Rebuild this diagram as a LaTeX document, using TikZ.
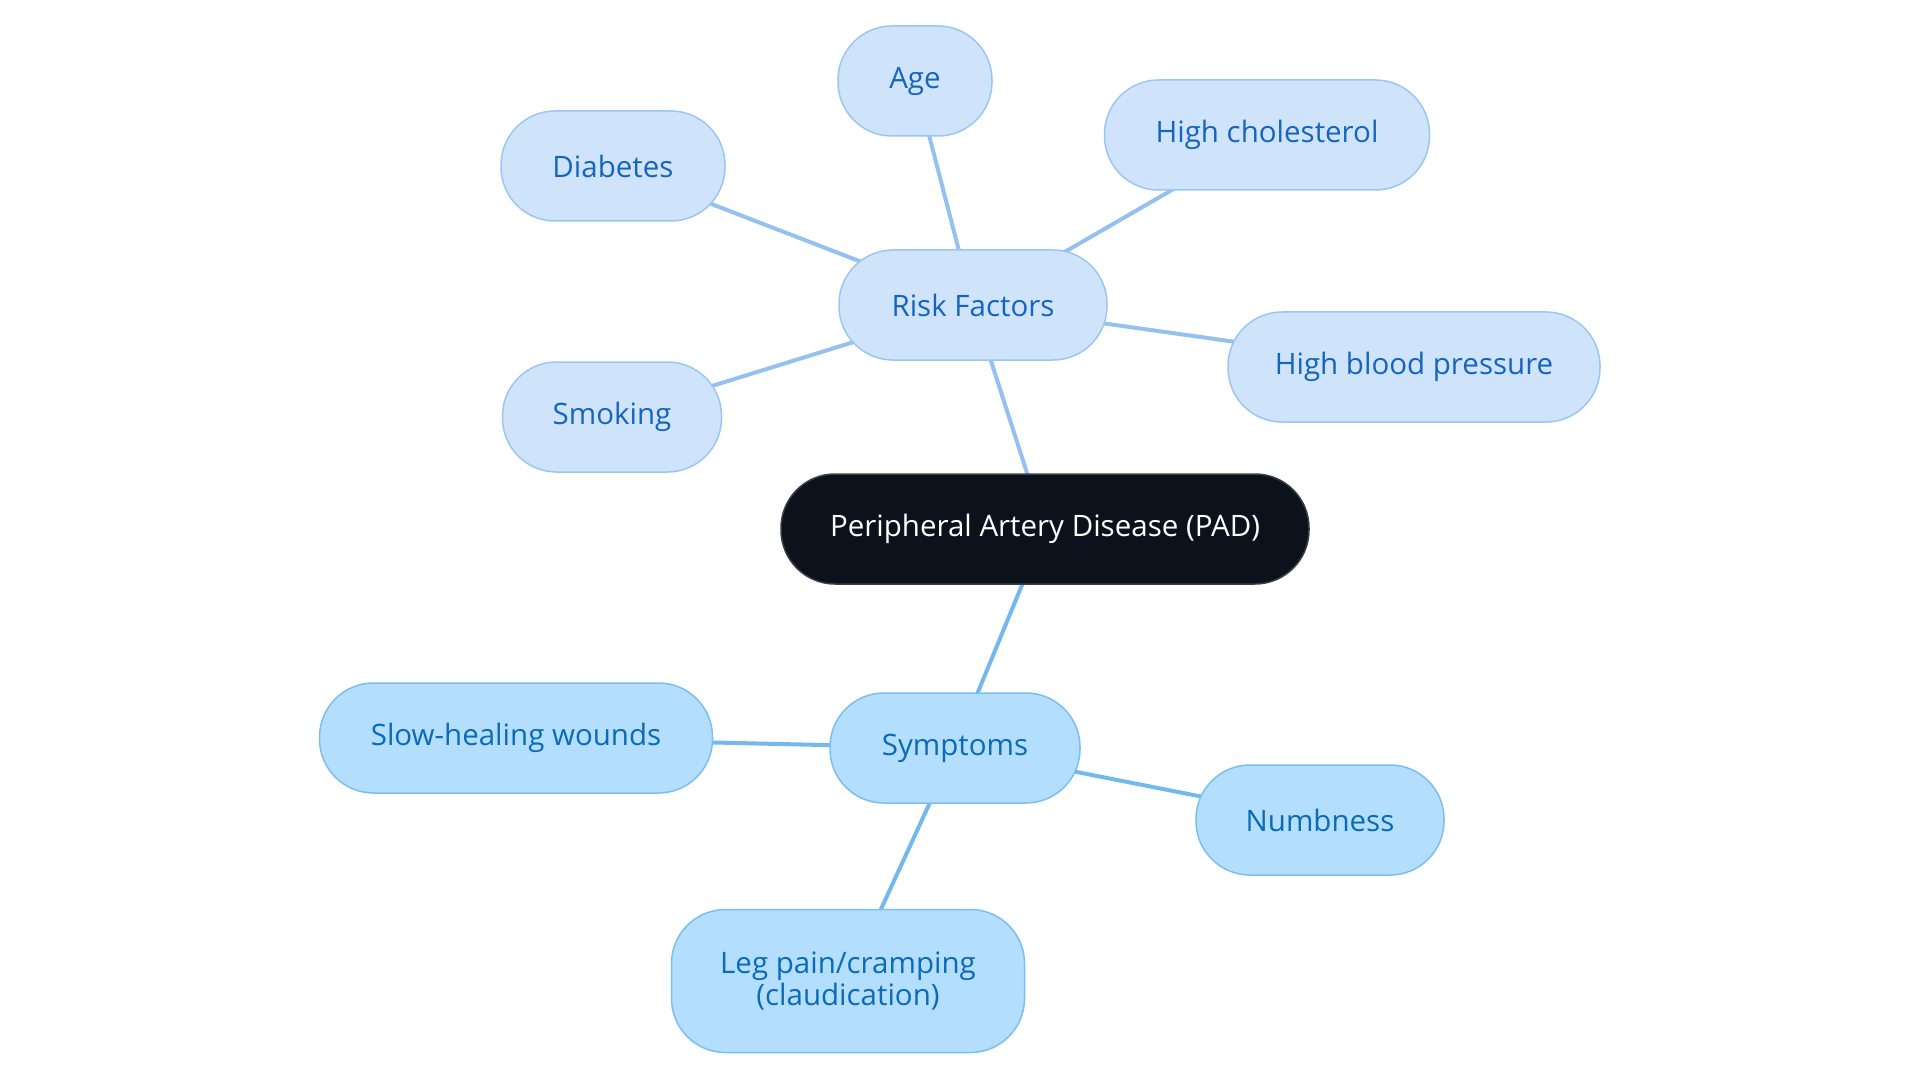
\documentclass[tikz,border=0pt]{standalone}
\usepackage{fontspec}
\setmainfont{Open Sans}
\usetikzlibrary{backgrounds}
\definecolor{rfill}{HTML}{CFE3FB}
\definecolor{rdraw}{HTML}{9CC6F2}
\definecolor{rtext}{HTML}{1565C0}
\definecolor{rline}{HTML}{94C1EE}
\definecolor{sfill}{HTML}{B3DEFD}
\definecolor{sdraw}{HTML}{7BBFEE}
\definecolor{stext}{HTML}{0B6BB8}
\definecolor{sline}{HTML}{74B9EE}
\definecolor{pfill}{HTML}{0C121C}
\definecolor{pdraw}{HTML}{3A3F47}
\tikzset{
  x=1pt,y=-1pt,
  pill/.style={rectangle, rounded corners=54pt, minimum height=110pt, line width=1.5pt, align=center, inner sep=0pt, font=\fontsize{29.5}{32}\selectfont},
  riskbox/.style={pill, fill=rfill, draw=rdraw, text=rtext},
  symbox/.style={pill, fill=sfill, draw=sdraw, text=stext},
  rootbox/.style={pill, fill=pfill, draw=pdraw, text=white},
  rlink/.style={draw=rline, line width=4pt},
  slink/.style={draw=sline, line width=4pt}
}
\begin{document}
\begin{tikzpicture}
\useasboundingbox (0,0) rectangle (1920,1083);
\node[rootbox, minimum width=528pt] (pad) at (1045,529) {Peripheral Artery Disease (PAD)};
\node[riskbox, minimum width=268pt] (risk) at (973,305) {Risk Factors};
\node[riskbox, minimum width=154pt] (age) at (915,81) {Age};
\node[riskbox, minimum width=224pt] (diab) at (613,166) {Diabetes};
\node[riskbox, minimum width=325pt] (chol) at (1267,135) {High cholesterol};
\node[riskbox, minimum width=372pt] (bp) at (1414,367) {High blood pressure};
\node[riskbox, minimum width=219pt] (smok) at (612,417) {Smoking};
\node[symbox, minimum width=250pt] (sym) at (955,748) {Symptoms};
\node[symbox, minimum width=393pt] (slow) at (516,738) {Slow-healing wounds};
\node[symbox, minimum width=248pt] (numb) at (1320,820) {Numbness};
\node[symbox, minimum width=353pt, minimum height=143pt] (leg) at (848,981) {Leg pain/cramping\\(claudication)};
\begin{scope}[on background layer]
\draw[rlink] (pad.center) -- (risk.center);
\draw[rlink] (risk.center) -- (age.center);
\draw[rlink] (risk.center) -- (diab.center);
\draw[rlink] (risk.center) -- (chol.center);
\draw[rlink] (risk.center) -- (bp.center);
\draw[rlink] (risk.center) -- (smok.center);
\draw[slink] (pad.center) -- (sym.center);
\draw[slink] (sym.center) -- (slow.center);
\draw[slink] (sym.center) -- (numb.center);
\draw[slink] (sym.center) -- (leg.center);
\end{scope}
\end{tikzpicture}
\end{document}
